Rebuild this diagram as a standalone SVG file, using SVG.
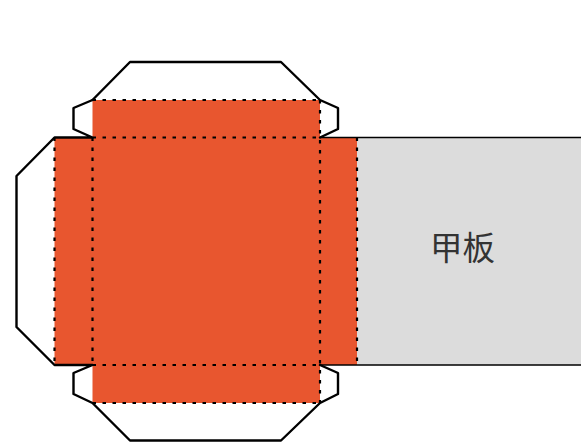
<svg xmlns="http://www.w3.org/2000/svg" width="581" height="444" viewBox="0 0 581 444">
<style>
.o{fill:none;stroke:#000;stroke-width:2.4;stroke-linejoin:round;stroke-linecap:round}
.f{fill:#e8562f}
.d{fill:none;stroke:#000;stroke-width:2.2;stroke-dasharray:3.500 6.500}
.h{fill:none;stroke:#000;stroke-width:1.3}
text{font-family:"Noto Sans CJK SC","Noto Sans CJK JP",sans-serif;font-size:32.500px;fill:#333;text-anchor:middle}
</style>
<rect width="581" height="444" fill="#fff"/>
<g id="panel"><rect x="357" y="137.5" width="224" height="227.5" fill="#dcdcdc"/><text x="462.500" y="260">甲板</text></g>
<g id="cross">
<rect class="f" x="92.5" y="100" width="227.5" height="303"/>
<rect class="f" x="54.5" y="137.5" width="302.500" height="227.500"/>
</g>
<g id="flaps">
<path class="o" d="M92.500 100L130 62H281L320 100L338 108V129L320 137.500"/>
<path class="o" d="M92.500 100L73.500 108V129L92.500 137.500H54.500L16.500 176V327L54.500 365H92.500L73.500 373V394L92.500 403L130 440.500H281L320 403L338 394V373L320 365"/>
</g>
<g id="connectors">
<path class="h" d="M320 137.500H581M320 365H581"/>
<path class="d" d="M92.500 100H320M92.500 137.500H320M92.500 365H320M92.500 403H320"/>
<path class="d" d="M54.500 137.500V365M92.500 137.500V365M320 100V403M357 137.500V365"/>
</g>
</svg>
